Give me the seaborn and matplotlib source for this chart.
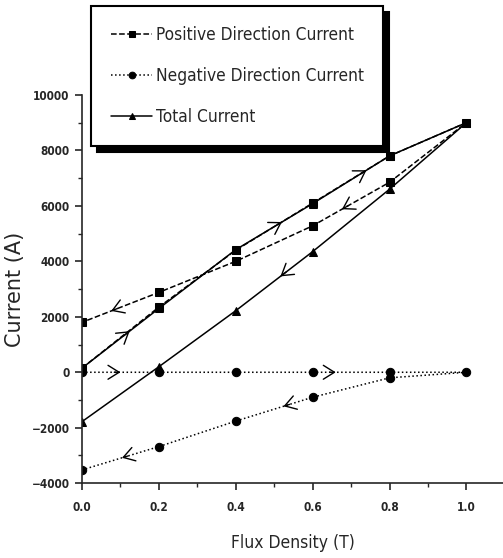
import numpy as np
import pandas as pd
import matplotlib
matplotlib.use("Agg")
import matplotlib.pyplot as plt
from matplotlib.ticker import MultipleLocator, FormatStrFormatter
from matplotlib import font_manager
import seaborn as sns

# ---- data (loop: increasing field then decreasing field) ----
flux = [0.0, 0.2, 0.4, 0.6, 0.8, 1.0, 0.8, 0.6, 0.4, 0.2, 0.0]
positive_current = [150, 2350, 4400, 6100, 7800, 9000, 6850, 5280, 4000, 2880, 1800]
negative_current = [0, 0, 0, 0, 0, 0, -200, -900, -1760, -2680, -3520]
total_current = [150, 2300, 4420, 6080, 7800, 9000, 6600, 4350, 2220, 200, -1780]
series_names = ["Positive Direction Current", "Negative Direction Current", "Total Current"]

# direction arrows: (series index, segment index, fraction along segment)
arrow_spots = [(2, 0, 0.62), (2, 2, 0.6), (2, 3, 0.7), (2, 7, 0.42),
               (0, 6, 0.62), (0, 9, 0.62),
               (1, 0, 0.5), (1, 3, 0.3), (1, 7, 0.38), (1, 9, 0.48)]

sns.set_style("ticks")
plt.rcParams["font.family"] = ["DejaVu Sans"]

narrow = font_manager.FontProperties(family="DejaVu Sans", stretch="condensed", size=12.4)

fig = plt.figure(figsize=(5.03, 5.58), dpi=100)
ax = fig.add_axes([0.163, 0.134, 0.837, 0.696])

all_y = [positive_current, negative_current, total_current]
styles = [("--", "s"), (":", "o"), ("-", "^")]
for name, ys, (ls, mk) in zip(series_names, all_y, styles):
    df = pd.DataFrame({"flux": flux, "current": ys})
    sns.lineplot(data=df, x="flux", y="current", sort=False, estimator=None,
                 color="black", linestyle=ls, marker=mk, markersize=6,
                 markeredgecolor="black", linewidth=1.1, label=name, ax=ax)

for si, seg, frac in arrow_spots:
    ys = all_y[si]
    x0, x1 = flux[seg], flux[seg + 1]
    y0, y1 = ys[seg], ys[seg + 1]
    xa, ya = x0 + (x1 - x0) * frac, y0 + (y1 - y0) * frac
    xb, yb = x0 + (x1 - x0) * (frac - 0.08), y0 + (y1 - y0) * (frac - 0.08)
    ax.annotate("", xy=(xa, ya), xytext=(xb, yb),
                arrowprops=dict(arrowstyle="->,head_length=0.8,head_width=0.5",
                                color="black", lw=1.0, shrinkA=0, shrinkB=0))

ax.set_xlim(0, 1.095)
ax.set_ylim(-4000, 10000)
ax.xaxis.set_major_locator(MultipleLocator(0.2))
ax.xaxis.set_minor_locator(MultipleLocator(0.1))
ax.xaxis.set_major_formatter(FormatStrFormatter("%.1f"))
ax.yaxis.set_major_locator(MultipleLocator(2000))
ax.yaxis.set_minor_locator(MultipleLocator(1000))
ax.tick_params(axis="both", which="major", direction="out", length=5, width=1.2)
ax.tick_params(axis="x", which="major", pad=8)
ax.tick_params(axis="y", which="major", pad=4)
ax.tick_params(axis="both", which="minor", direction="out", length=3, width=1.0)
for lab in ax.get_xticklabels() + ax.get_yticklabels():
    lab.set_fontweight("bold")
    lab.set_fontsize(8.5)
    lab.set_fontstretch("condensed")

sns.despine(ax=ax)
for sp in ("left", "bottom"):
    ax.spines[sp].set_linewidth(1.2)

ax.set_xlabel("Flux Density (T)", fontsize=12.5, fontstretch="condensed", labelpad=14)
ax.set_ylabel("Current (A)", fontsize=15, labelpad=5)

handles, labels = ax.get_legend_handles_labels()
if ax.legend_:
    ax.legend_.remove()
leg = fig.legend(handles, labels, loc="upper left",
                 bbox_to_anchor=(0.181, 0.989), borderaxespad=0,
                 prop=narrow,
                 frameon=True, fancybox=False, edgecolor="black",
                 shadow={"color": "black", "alpha": 1.0, "ox": 4, "oy": -4},
                 handlelength=2.4, labelspacing=1.35, borderpad=1.15,
                 handletextpad=0.2, markerscale=0.8)
leg.get_frame().set_linewidth(1.5)

fig.savefig("out.png", dpi=100)
